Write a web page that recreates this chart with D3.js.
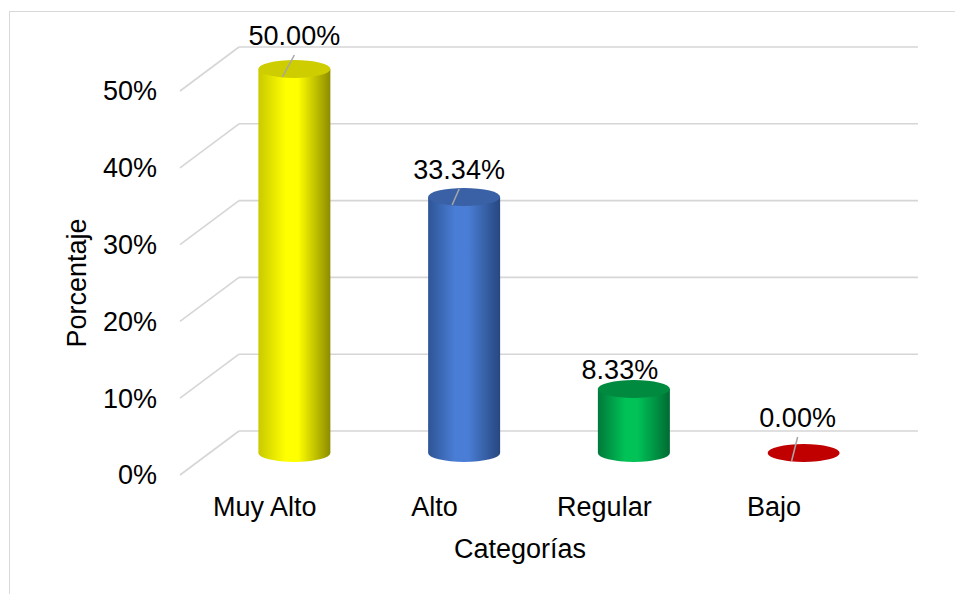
<!DOCTYPE html>
<html>
<head>
<meta charset="utf-8">
<script src="https://cdn.jsdelivr.net/npm/d3@7"></script>
<style>
  html, body { margin: 0; padding: 0; background: #fff; }
  svg { display: block; }
  text { font-family: "Liberation Sans", Arial, sans-serif; fill: #000; }
</style>
</head>
<body>
<svg id="chart" width="955" height="594"></svg>
<script>
// ---- data ----
const categories = ["Muy Alto", "Alto", "Regular", "Bajo"];
const values = [50.00, 33.34, 8.33, 0.00];
const valueLabels = ["50.00%", "33.34%", "8.33%", "0.00%"];
const yTicks = [0, 10, 20, 30, 40, 50];
const yTickLabels = ["0%", "10%", "20%", "30%", "40%", "50%"];
const xTitle = "Categorías";
const yTitle = "Porcentaje";

// ---- styles / layout ----
const palettes = [
  { edgeL: "#c9c900", mid: "#ffff00", edgeR: "#8c8c00", top: "#cdcd00" },
  { edgeL: "#2e5596", mid: "#4a7ed6", edgeR: "#27477f", top: "#3a60a6" },
  { edgeL: "#00793a", mid: "#00c257", edgeR: "#006b33", top: "#008a40" },
  { edgeL: "#c00000", mid: "#c00000", edgeR: "#c00000", top: "#c00000" }
];
const labelShift = [[0, -24], [-5, -18], [-14, -10], [-6, -26]];
const fontSize = 27;
const depthX = -59, depthY = 44;
const rx = 36, ry = 9;

const svg = d3.select("#chart");

// chart frame
svg.append("rect").attr("x", 9.5).attr("y", 11.5).attr("width", 980).attr("height", 620)
  .attr("fill", "none").attr("stroke", "#d9d9d9").attr("stroke-width", 1);

const x = d3.scaleBand().domain(categories).range([239, 918]);
const y = d3.scaleLinear().domain([0, 50]).range([431, 47]);

// gradients
const defs = svg.append("defs");
palettes.forEach((p, i) => {
  const g = defs.append("linearGradient").attr("id", "grad" + i)
    .attr("x1", "0%").attr("x2", "100%").attr("y1", "0%").attr("y2", "0%");
  g.append("stop").attr("offset", "0%").attr("stop-color", p.edgeL);
  g.append("stop").attr("offset", "38%").attr("stop-color", p.mid);
  g.append("stop").attr("offset", "55%").attr("stop-color", p.mid);
  g.append("stop").attr("offset", "100%").attr("stop-color", p.edgeR);
});

// gridlines (back wall + side wall diagonals)
const grid = svg.append("g").attr("stroke", "#d6d6d6").attr("stroke-width", 1.6).attr("fill", "none");
yTicks.forEach(t => {
  const yy = y(t);
  grid.append("line").attr("x1", x.range()[0]).attr("x2", x.range()[1]).attr("y1", yy).attr("y2", yy);
  grid.append("line").attr("x1", x.range()[0]).attr("y1", yy)
    .attr("x2", x.range()[0] + depthX).attr("y2", yy + depthY);
});

// y tick labels (front edge)
svg.append("g").selectAll("text").data(yTicks).join("text")
  .attr("x", x.range()[0] + depthX - 23)
  .attr("y", d => y(d) + depthY)
  .attr("dy", "0.35em")
  .attr("text-anchor", "end")
  .attr("font-size", fontSize)
  .text((d, i) => yTickLabels[i]);

// cylinders at mid depth
const bars = svg.append("g");
categories.forEach((c, i) => {
  const cx = x(c) + x.bandwidth() / 2 + depthX / 2;
  const yTop = y(values[i]) + depthY / 2;
  const yBot = y(0) + depthY / 2;
  const p = palettes[i];
  if (yBot - yTop > 0.5) {
    const path = d3.path();
    path.moveTo(cx - rx, yTop);
    path.lineTo(cx - rx, yBot);
    // bottom front half arc
    bars.append("path")
      .attr("d", `M${cx - rx},${yTop} L${cx - rx},${yBot} A${rx},${ry} 0 0 0 ${cx + rx},${yBot} L${cx + rx},${yTop} Z`)
      .attr("fill", `url(#grad${i})`);
  }
  bars.append("ellipse").attr("cx", cx).attr("cy", yTop).attr("rx", rx).attr("ry", ry)
    .attr("fill", p.top);

  // data label
  const [ldx, ldy] = labelShift[i];
  svg.append("text")
    .attr("x", cx + ldx).attr("y", yTop + ldy)
    .attr("text-anchor", "middle")
    .attr("font-size", fontSize)
    .text(valueLabels[i]);
  if (ldy + 10 < -4) {
    svg.append("line")
      .attr("x1", cx + ldx).attr("y1", yTop + ldy + 10)
      .attr("x2", cx - 12).attr("y2", yTop + 8)
      .attr("stroke", "#a6a6a6").attr("stroke-width", 1.5);
  }
});

// category labels (front edge)
svg.append("g").selectAll("text").data(categories).join("text")
  .attr("x", d => x(d) + x.bandwidth() / 2 + depthX)
  .attr("y", 516)
  .attr("text-anchor", "middle")
  .attr("font-size", fontSize)
  .text(d => d);

// axis titles
svg.append("text").attr("x", 520).attr("y", 558).attr("text-anchor", "middle")
  .attr("font-size", fontSize).text(xTitle);
svg.append("text").attr("transform", "translate(86,283) rotate(-90)")
  .attr("text-anchor", "middle").attr("font-size", fontSize).text(yTitle);
</script>
</body>
</html>
